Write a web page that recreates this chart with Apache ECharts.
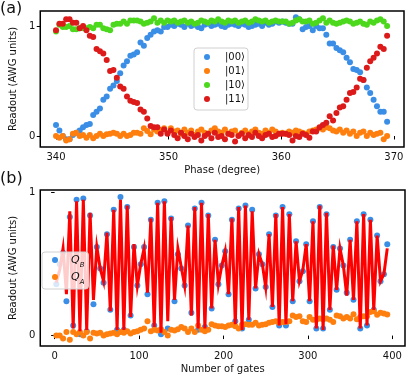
<!DOCTYPE html>
<html><head><meta charset="utf-8">
<script src="https://cdn.jsdelivr.net/npm/echarts@6/dist/echarts.min.js"></script>
<style>html,body{margin:0;padding:0;background:#fff}#c{width:415px;height:383px}</style>
</head><body><div id="c"></div>
<script>
// ---- Panel (a): phase sweep ----
var phase = [340.0,340.3,340.6,340.9,341.2,341.5,341.8,342.1,342.4,342.7,343.0,343.3,343.6,343.9,344.2,344.5,344.8,345.1,345.4,345.7,346.0,346.3,346.6,346.9,347.2,347.5,347.8,348.1,348.4,348.7,349.0,349.3,349.6,349.9,350.2,350.5,350.8,351.1,351.4,351.7,352.0,352.3,352.6,352.9,353.2,353.5,353.8,354.1,354.4,354.7,355.0,355.3,355.6,355.9,356.2,356.5,356.8,357.1,357.4,357.7,358.0,358.3,358.6,358.9,359.2,359.5,359.8,360.1,360.4,360.7,361.0,361.3,361.6,361.9,362.2,362.5,362.8,363.1,363.4,363.7,364.0,364.3,364.6,364.9,365.2,365.5,365.8,366.1,366.4,366.7,367.0,367.3,367.6,367.9,368.2,368.5,368.8,369.1,369.4];
var s00 = [0.10,0.05,0.00,-0.03,-0.03,0.01,0.03,0.05,0.08,0.10,0.11,0.19,0.22,0.25,0.33,0.36,0.43,0.46,0.50,0.57,0.64,0.68,0.73,0.74,0.76,0.85,0.82,0.89,0.92,0.95,0.96,0.95,0.99,0.99,1.01,
 1.00,1.02,1.01,0.99,1.02,1.00,1.01,0.99,0.98,1.01,1.02,1.00,1.01,1.02,1.00,0.99,1.01,1.02,1.01,1.00,1.02,1.01,0.99,1.00,1.01,1.02,1.00,1.03,1.01,1.02,1.04,1.03,
 1.04,1.03,1.02,1.02,1.08,1.06,0.97,0.99,1.00,0.96,1.00,0.98,0.98,
 0.92,0.84,0.84,0.80,0.78,0.76,0.71,0.67,0.61,0.60,0.58,0.51,0.44,0.39,0.33,0.27,0.22,0.22,0.13];
var s01 = [0.00,-0.015,0.00,-0.04,-0.03,0.02,0.03,0.00,0.01,-0.015,0.01,-0.02,0.00,0.02,0.00,0.015,0.02,0.03,0.02,0.00,0.02,0.00,0.01,0.03,0.03,0.02,0.07,0.045,0.015,0.06,0.04,0.055,0.07,0.03,0.07,
 0.04,0.05,0.02,0.06,0.03,0.05,0.01,0.04,0.06,0.03,0.02,0.05,0.07,0.04,0.03,0.06,0.02,0.04,0.05,0.01,0.03,0.05,0.02,0.04,0.06,0.03,0.02,0.05,0.03,0.06,0.04,0.02,
 0.03,0.02,0.04,0.03,0.05,0.04,0.03,0.02,0.04,0.05,0.06,0.07,0.06,0.08,0.07,0.05,0.04,0.06,0.03,0.05,0.02,0.04,0.00,0.03,0.04,0.00,0.03,0.01,0.02,0.03,-0.03,0.00];
var s10 = [0.95,1.01,0.99,0.99,1.00,0.97,0.97,0.98,0.98,0.98,0.99,0.98,1.01,1.01,0.98,0.97,0.96,1.01,1.02,1.02,1.04,1.02,1.05,1.05,1.05,1.04,1.02,1.03,1.04,1.07,1.03,1.05,1.03,1.05,1.04,
 1.05,1.03,1.04,1.05,1.03,1.04,1.02,1.03,1.05,1.04,1.03,1.05,1.04,1.06,1.04,1.03,1.05,1.04,1.05,1.03,1.04,1.05,1.03,1.04,1.06,1.05,1.04,1.05,1.03,1.04,1.05,1.04,
 1.04,1.04,1.02,1.03,1.05,1.06,1.04,1.04,1.05,1.02,1.03,1.05,1.07,1.03,1.05,1.03,1.02,1.03,1.04,1.05,1.04,1.02,1.03,1.04,1.02,1.01,1.04,1.03,1.05,1.06,1.04,1.00];
var s11 = [0.96,1.02,1.02,1.06,1.06,1.03,1.03,0.98,1.00,0.96,0.91,0.90,0.79,0.77,0.75,0.69,0.59,0.60,0.53,0.45,0.43,0.36,0.32,0.31,0.30,0.24,0.22,0.16,0.09,0.08,0.08,0.02,0.06,0.02,0.05,
 0.01,-0.02,0.03,0.00,-0.03,0.02,-0.01,0.01,-0.04,0.00,0.02,-0.02,0.03,-0.01,0.00,-0.03,0.02,0.01,-0.05,0.00,0.02,-0.02,0.01,-0.01,0.03,0.00,-0.02,0.01,0.02,-0.01,0.00,0.02,
 0.02,0.02,0.01,-0.04,0.00,-0.01,0.02,0.01,-0.015,0.04,0.04,0.08,0.10,0.12,0.18,0.14,0.21,0.26,0.27,0.33,0.39,0.40,0.44,0.52,0.51,0.62,0.68,0.71,0.75,0.81,0.79,0.91];
var aXTicks = [340, 350, 360, 370];
var aYTicks = [0, 1];

// ---- Panel (b): gate sequence ----
var gates = [2,6,10,14,18,22,26,30,34,38,42,46,50,54,58,62,66,70,74,78,82,86,90,94,98,102,106,110,114,118,122,126,130,134,138,142,146,150,154,158,162,166,170,174,178,182,186,190,194,198,202,206,210,214,218,222,226,230,234,238,242,246,250,254,258,262,266,270,274,278,282,286,290,294,298,302,306,310,314,318,322,326,330,334,338,342,346,350,354,358,362,366,370,374,378,382,386,390,394];
var qB = [0.36,0.50,0.58,0.24,0.83,0.07,0.95,0.01,0.96,0.03,0.84,0.22,0.62,0.47,0.37,0.71,0.18,0.88,0.04,0.97,0.04,0.90,0.14,0.62,0.35,0.50,0.62,0.29,0.81,0.07,0.93,0.01,0.94,
 0.05,0.82,0.24,0.57,0.47,0.35,0.77,0.16,0.89,0.04,0.93,0.06,0.84,0.19,0.67,0.36,0.49,0.59,0.29,0.81,0.10,0.89,0.05,0.91,0.11,0.88,0.33,0.57,0.50,0.34,0.71,0.20,0.84,0.07,0.90,
 0.07,0.85,0.24,0.66,0.38,0.45,0.64,0.24,0.80,0.05,0.90,0.05,0.85,0.18,0.62,0.32,0.61,0.49,0.30,0.67,0.25,0.80,0.05,0.85,0.07,0.81,0.18,0.70,0.38,0.43,0.64];
var qBfit = [0.37,0.46,0.61,0.29,0.87,0.05,0.94,0.03,0.95,0.04,0.86,0.25,0.62,0.47,0.38,0.72,0.17,0.88,0.04,0.95,0.04,0.91,0.13,0.64,0.35,0.50,0.61,0.30,0.82,0.06,0.93,0.02,0.94,
 0.10,0.83,0.25,0.61,0.48,0.35,0.77,0.14,0.90,0.05,0.93,0.05,0.85,0.19,0.67,0.36,0.49,0.59,0.29,0.82,0.08,0.90,0.04,0.91,0.11,0.87,0.33,0.57,0.50,0.34,0.71,0.20,0.85,0.07,0.90,
 0.08,0.85,0.24,0.66,0.38,0.46,0.64,0.24,0.80,0.05,0.91,0.04,0.86,0.18,0.63,0.32,0.61,0.49,0.28,0.67,0.25,0.80,0.05,0.85,0.07,0.81,0.18,0.70,0.38,0.43,0.61];
var qA = [0.00,0.00,-0.02,0.025,-0.03,0.025,0.01,0.025,0.00,0.025,-0.02,0.02,0.015,0.02,0.00,0.01,0.015,0.02,0.01,0.025,0.02,0.03,0.015,0.025,0.03,0.04,0.05,0.10,0.03,0.04,0.035,0.045,
 0.025,0.00,0.04,0.035,0.045,0.06,0.05,0.025,0.05,0.025,0.07,0.04,0.03,0.04,0.08,0.07,0.065,0.065,0.06,0.07,0.075,0.065,0.05,0.075,0.08,0.075,0.075,0.09,0.07,0.075,0.08,0.09,0.095,0.10,0.09,
 0.095,0.095,0.10,0.14,0.13,0.135,0.10,0.095,0.13,0.11,0.11,0.12,0.115,0.12,0.11,0.095,0.14,0.135,0.12,0.13,0.12,0.15,0.115,0.13,0.135,0.135,0.165,0.17,0.145,0.16,0.155,0.147];
var bXTicks = [0, 100, 200, 300, 400];
var bYTicks = [0, 1];

function zip(xs, ys) { return xs.map(function (x, i) { return [x, ys[i]]; }); }

var FONT = 'DejaVu Sans';
var C_BLUE = '#3a8ee6', C_ORANGE = '#ff7f0e', C_GREEN = '#4cd81c', C_RED = '#dd1a1a';

function axisCommon(ticks) {
  return {
    axisLine: { show: false },
    axisTick: { show: true, length: 3.5, customValues: ticks, lineStyle: { color: '#000', width: 1 } },
    axisLabel: { customValues: ticks, fontFamily: FONT, fontSize: 10, color: '#111', margin: 5 },
    splitLine: { show: false }
  };
}
function ax(extra, ticks) { return Object.assign(axisCommon(ticks), extra); }

var chart = echarts.init(document.getElementById('c'), null, { renderer: 'canvas' });
var sym = 6;
function dot(c) { return { color: c, opacity: 1 }; }
chart.setOption({
  animation: false,
  backgroundColor: '#fff',
  textStyle: { fontFamily: FONT },
  grid: [
    { left: 37, top: 11, right: 11, height: 136, show: true, borderColor: '#000', borderWidth: 1.5, backgroundColor: 'transparent' },
    { left: 37, top: 190, right: 10, height: 156, show: true, borderColor: '#000', borderWidth: 1.5, backgroundColor: 'transparent' }
  ],
  xAxis: [
    ax({ type: 'value', gridIndex: 0, min: 338.6, max: 370.9, name: 'Phase (degree)', nameLocation: 'middle', nameGap: 18,
         nameTextStyle: { fontFamily: FONT, fontSize: 10, color: '#111' } }, aXTicks),
    ax({ type: 'value', gridIndex: 1, min: -17, max: 415, name: 'Number of gates', nameLocation: 'middle', nameGap: 18,
         nameTextStyle: { fontFamily: FONT, fontSize: 10, color: '#111' } }, bXTicks)
  ],
  yAxis: [
    ax({ type: 'value', gridIndex: 0, min: -0.1, max: 1.136, name: 'Readout (AWG units)', nameLocation: 'middle', nameGap: 19,
         nameTextStyle: { fontFamily: FONT, fontSize: 10, color: '#111' } }, aYTicks),
    ax({ type: 'value', gridIndex: 1, min: -0.073, max: 1.019, name: 'Readout (AWG units)', nameLocation: 'middle', nameGap: 19,
         nameTextStyle: { fontFamily: FONT, fontSize: 10, color: '#111' } }, bYTicks)
  ],
  legend: [
    { data: ['|00⟩', '|01⟩', '|10⟩', '|11⟩'], orient: 'vertical', left: 194, top: 48,
      padding: [3, 3, 5, 10], itemWidth: 6, itemHeight: 6, itemGap: 2, icon: 'circle',
      backgroundColor: 'rgba(255,255,255,0.8)', borderColor: '#d0d0d0', borderWidth: 1, borderRadius: 3,
      textStyle: { fontFamily: FONT, fontSize: 10, color: '#111', lineHeight: 12, padding: [0, 0, 0, 10] } },
    { data: ['QB', 'QA'], orient: 'vertical', left: 42, top: 252,
      padding: [2, 4, 3, 10], itemWidth: 6, itemHeight: 6, itemGap: 2, icon: 'circle',
      backgroundColor: 'rgba(255,255,255,0.8)', borderColor: '#d0d0d0', borderWidth: 1, borderRadius: 3,
      formatter: function (n) { return '{i|Q}{s|' + n.charAt(1) + '}'; },
      textStyle: { fontFamily: FONT, fontSize: 10, color: '#111', lineHeight: 12, padding: [0, 0, 0, 8],
        rich: { i: { fontFamily: FONT, fontStyle: 'italic', fontSize: 11, color: '#111', lineHeight: 12 },
                s: { fontFamily: FONT, fontStyle: 'italic', fontSize: 7, color: '#111', lineHeight: 12, verticalAlign: 'bottom', padding: [0, 0, -3, 0] } } } }
  ],
  graphic: [
    { type: 'text', left: 0, top: 1, style: { text: '(a)', fontFamily: FONT, fontSize: 16, fill: '#111' } },
    { type: 'text', left: 0, top: 171, style: { text: '(b)', fontFamily: FONT, fontSize: 16, fill: '#111' } }
  ],
  series: [
    { name: '|00⟩', type: 'scatter', xAxisIndex: 0, yAxisIndex: 0, symbolSize: sym, itemStyle: dot(C_BLUE), data: zip(phase, s00) },
    { name: '|01⟩', type: 'scatter', xAxisIndex: 0, yAxisIndex: 0, symbolSize: sym, itemStyle: dot(C_ORANGE), data: zip(phase, s01) },
    { name: '|10⟩', type: 'scatter', xAxisIndex: 0, yAxisIndex: 0, symbolSize: sym, itemStyle: dot(C_GREEN), data: zip(phase, s10) },
    { name: '|11⟩', type: 'scatter', xAxisIndex: 0, yAxisIndex: 0, symbolSize: sym, itemStyle: dot(C_RED), data: zip(phase, s11) },
    { name: 'QB', type: 'scatter', xAxisIndex: 1, yAxisIndex: 1, symbolSize: sym, itemStyle: dot(C_BLUE), data: zip(gates, qB) },
    { name: 'QA', type: 'scatter', xAxisIndex: 1, yAxisIndex: 1, symbolSize: sym, itemStyle: dot(C_ORANGE), data: zip(gates, qA) },
    { name: 'fit', type: 'line', xAxisIndex: 1, yAxisIndex: 1, showSymbol: false, z: 3, lineStyle: { color: '#ff0000', width: 3, join: 'miter' }, data: zip(gates, qBfit) }
  ]
});
</script></body></html>
